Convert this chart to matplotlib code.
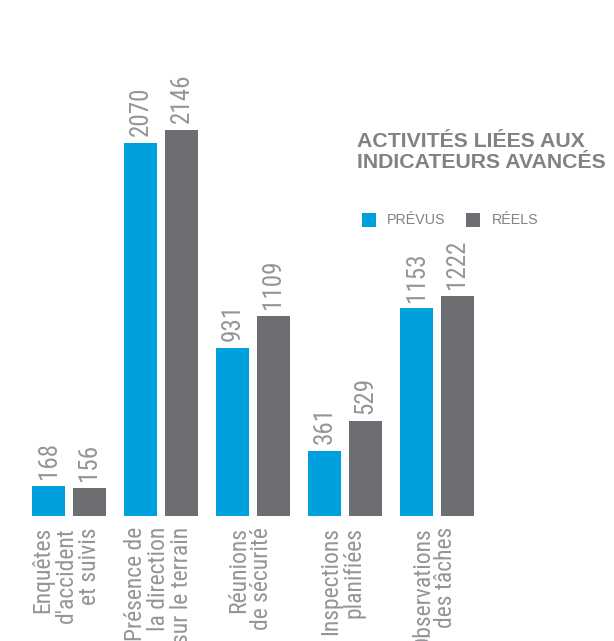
import matplotlib
matplotlib.use("Agg")
import matplotlib.pyplot as plt
from matplotlib.patches import Rectangle
import numpy as np

categories = ["Enquêtes\nd'accident\net suivis",
              "Présence de\nla direction\nsur le terrain",
              "Réunions\nde sécurité",
              "Inspections\nplanifiées",
              "Observations\ndes tâches"]
prevus = [168, 2070, 931, 361, 1153]
reels = [156, 2146, 1109, 529, 1222]
series_labels = ["PRÉVUS", "RÉELS"]
title = "ACTIVITÉS LIÉES AUX\nINDICATEURS AVANCÉS"

BLUE = "#00A0DF"
GREY = "#6D6E71"
LABEL = "#939598"
TITLE = "#808285"
COND = ["Roboto Condensed", "DejaVu Sans"]
SANS = ["Liberation Sans", "DejaVu Sans"]

W, H = 614, 641
fig = plt.figure(figsize=(W / 100, H / 100), dpi=100)
ax = fig.add_axes([0, 125 / H, 1, 516 / H])
ax.axis("off")

x = np.arange(len(categories))
w = 33 / 92
off = 20.5 / 92
ax.set_xlim(-69 / 92, (W - 69) / 92)
ax.set_ylim(0, 516 / 0.18)

ax.bar(x - off, prevus, width=w, color=BLUE)
ax.bar(x + off, reels, width=w, color=GREY)

for xs, vals in ((x - off, prevus), (x + off, reels)):
    for xi, v in zip(xs, vals):
        ax.annotate(str(v), xy=(xi, v), xytext=(0, 5), textcoords="offset points",
                    rotation=90, ha="center", va="bottom", fontsize=18,
                    color=LABEL, family=COND)

for xi, lab in zip(x, categories):
    ax.annotate(lab, xy=(xi, 0), xytext=(-2, -8), textcoords="offset points",
                rotation=90, ha="center", va="top", multialignment="right",
                fontsize=17, color=LABEL, family=COND, linespacing=1.0,
                annotation_clip=False)

fig.text(357 / W, 1 - 132 / H, title, ha="left", va="top", fontsize=15.3,
         fontweight="bold", color=TITLE, family=SANS, linespacing=1.12)

# legend
sq = 14
for (lx, tx), col, lab in zip(((362, 387), (466, 492)), (BLUE, GREY), series_labels):
    fig.add_artist(Rectangle((lx / W, 1 - 227 / H), sq / W, sq / H,
                             transform=fig.transFigure, color=col, lw=0))
    fig.text(tx / W, 1 - 220 / H, lab, ha="left", va="center", fontsize=10.3,
             color=TITLE, family=SANS)

fig.savefig("out.png", dpi=100)
